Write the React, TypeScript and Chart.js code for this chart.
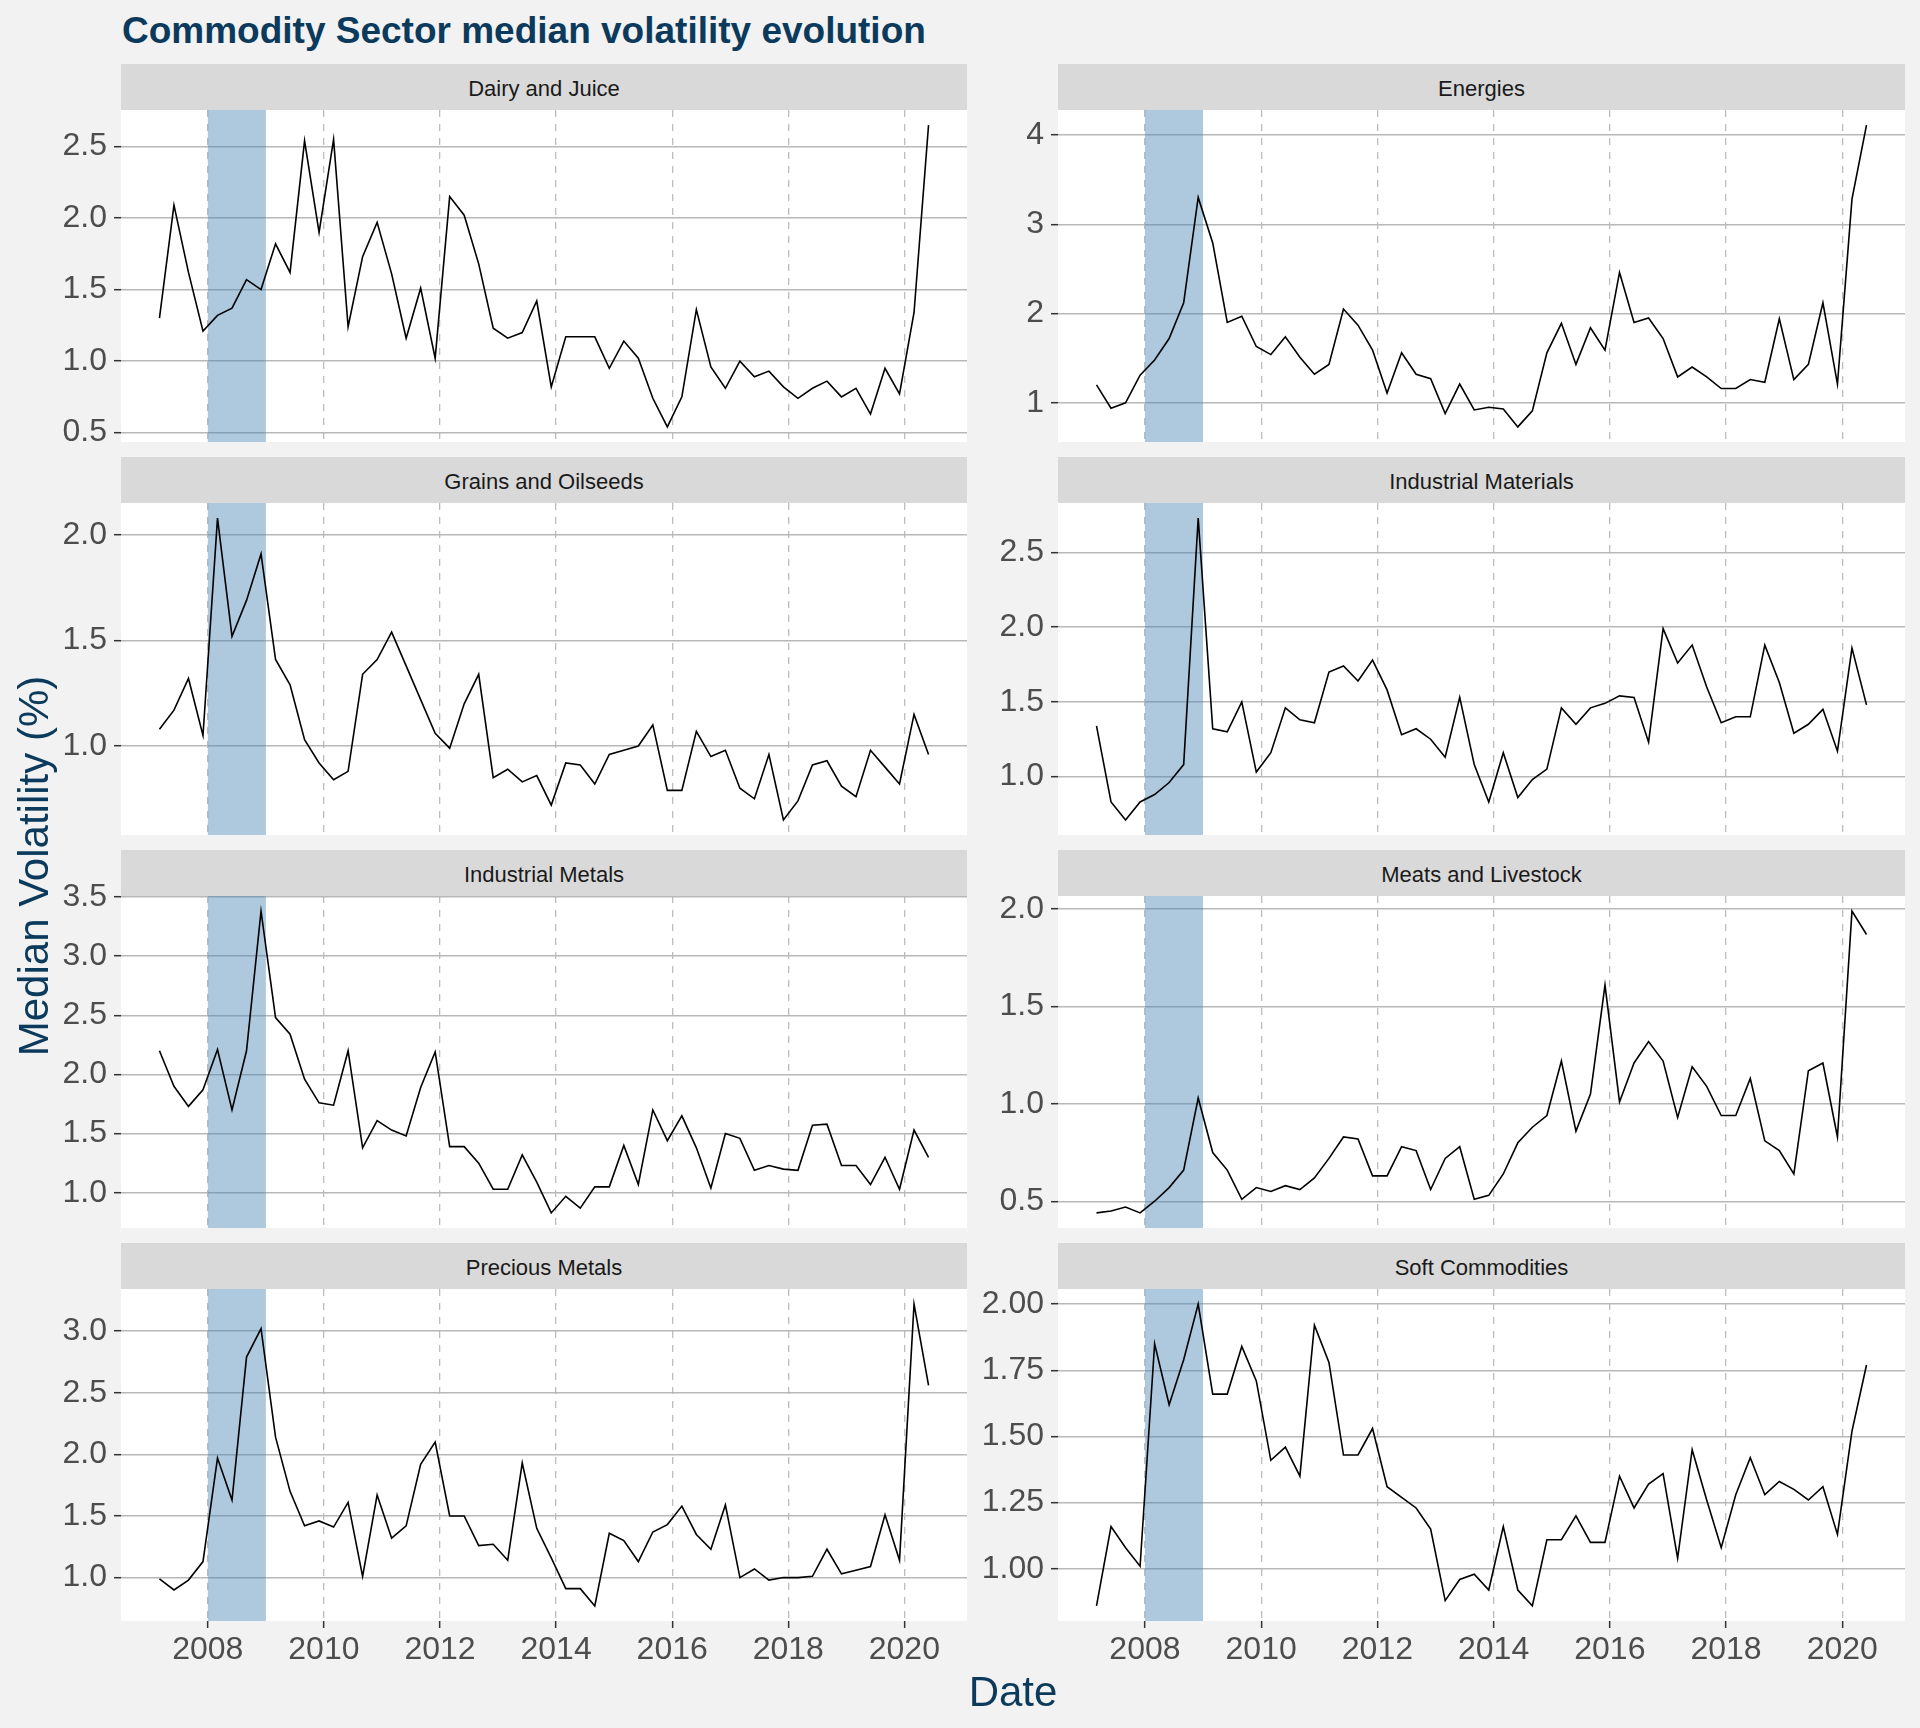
import React, { useEffect, useRef } from "react";
import { Chart, registerables } from "chart.js";

Chart.register(...registerables);

// ---------- data ----------
const QUARTERS = [
  "2007-03", "2007-06", "2007-09", "2007-12",
  "2008-03", "2008-06", "2008-09", "2008-12",
  "2009-03", "2009-06", "2009-09", "2009-12",
  "2010-03", "2010-06", "2010-09", "2010-12",
  "2011-03", "2011-06", "2011-09", "2011-12",
  "2012-03", "2012-06", "2012-09", "2012-12",
  "2013-03", "2013-06", "2013-09", "2013-12",
  "2014-03", "2014-06", "2014-09", "2014-12",
  "2015-03", "2015-06", "2015-09", "2015-12",
  "2016-03", "2016-06", "2016-09", "2016-12",
  "2017-03", "2017-06", "2017-09", "2017-12",
  "2018-03", "2018-06", "2018-09", "2018-12",
  "2019-03", "2019-06", "2019-09", "2019-12",
  "2020-03", "2020-06",
];

const SECTORS = [
  "Dairy and Juice",
  "Energies",
  "Grains and Oilseeds",
  "Industrial Materials",
  "Industrial Metals",
  "Meats and Livestock",
  "Precious Metals",
  "Soft Commodities",
];

const DAIRY = [1.30, 2.09, 1.62, 1.21, 1.32, 1.37, 1.57, 1.50, 1.82, 1.62, 2.54, 1.90, 2.55, 1.24, 1.73, 1.97, 1.61, 1.16, 1.51, 1.02, 2.15, 2.02, 1.68, 1.23, 1.16, 1.20, 1.42, 0.82, 1.17, 1.17, 1.17, 0.95, 1.14, 1.02, 0.74, 0.54, 0.75, 1.36, 0.96, 0.81, 1.00, 0.89, 0.93, 0.82, 0.74, 0.81, 0.86, 0.75, 0.81, 0.63, 0.95, 0.77, 1.34, 2.65];
const ENERGIES = [1.20, 0.94, 1.00, 1.31, 1.48, 1.72, 2.12, 3.30, 2.79, 1.90, 1.97, 1.63, 1.54, 1.74, 1.51, 1.32, 1.43, 2.05, 1.87, 1.59, 1.11, 1.56, 1.32, 1.27, 0.88, 1.21, 0.92, 0.95, 0.93, 0.73, 0.91, 1.56, 1.89, 1.43, 1.84, 1.59, 2.46, 1.90, 1.95, 1.72, 1.29, 1.40, 1.29, 1.16, 1.16, 1.26, 1.23, 1.94, 1.26, 1.43, 2.12, 1.21, 3.28, 4.11];
const GRAINS = [1.08, 1.17, 1.32, 1.05, 2.08, 1.52, 1.69, 1.91, 1.41, 1.29, 1.03, 0.92, 0.84, 0.88, 1.34, 1.41, 1.54, 1.38, 1.22, 1.06, 0.99, 1.20, 1.34, 0.85, 0.89, 0.83, 0.86, 0.72, 0.92, 0.91, 0.82, 0.96, 0.98, 1.00, 1.10, 0.79, 0.79, 1.07, 0.95, 0.98, 0.80, 0.75, 0.96, 0.65, 0.74, 0.91, 0.93, 0.81, 0.76, 0.98, 0.90, 0.82, 1.15, 0.96];
const IND_MATERIALS = [1.34, 0.83, 0.71, 0.83, 0.88, 0.96, 1.08, 2.73, 1.32, 1.30, 1.50, 1.03, 1.16, 1.46, 1.38, 1.36, 1.70, 1.74, 1.64, 1.78, 1.58, 1.28, 1.32, 1.25, 1.13, 1.53, 1.08, 0.83, 1.16, 0.86, 0.98, 1.05, 1.46, 1.35, 1.46, 1.49, 1.54, 1.53, 1.23, 1.99, 1.76, 1.88, 1.60, 1.36, 1.40, 1.40, 1.88, 1.63, 1.29, 1.35, 1.45, 1.17, 1.86, 1.48];
const IND_METALS = [2.20, 1.90, 1.73, 1.87, 2.21, 1.70, 2.20, 3.38, 2.48, 2.34, 1.96, 1.76, 1.74, 2.20, 1.38, 1.61, 1.53, 1.48, 1.89, 2.19, 1.39, 1.39, 1.25, 1.03, 1.03, 1.32, 1.09, 0.83, 0.97, 0.87, 1.05, 1.05, 1.40, 1.07, 1.70, 1.44, 1.65, 1.38, 1.04, 1.50, 1.46, 1.19, 1.23, 1.20, 1.19, 1.57, 1.58, 1.23, 1.23, 1.07, 1.30, 1.03, 1.53, 1.30];
const MEATS = [0.44, 0.45, 0.47, 0.44, 0.50, 0.57, 0.66, 1.03, 0.75, 0.66, 0.51, 0.57, 0.55, 0.58, 0.56, 0.62, 0.72, 0.83, 0.82, 0.63, 0.63, 0.78, 0.76, 0.56, 0.72, 0.78, 0.51, 0.53, 0.64, 0.80, 0.88, 0.94, 1.22, 0.86, 1.05, 1.61, 1.01, 1.21, 1.32, 1.22, 0.93, 1.19, 1.09, 0.94, 0.94, 1.13, 0.81, 0.76, 0.64, 1.17, 1.21, 0.83, 1.99, 1.87];
const PRECIOUS = [0.99, 0.90, 0.98, 1.13, 1.97, 1.63, 2.79, 3.02, 2.14, 1.70, 1.42, 1.46, 1.41, 1.61, 1.01, 1.67, 1.32, 1.42, 1.92, 2.10, 1.50, 1.50, 1.26, 1.27, 1.14, 1.93, 1.40, 1.16, 0.91, 0.91, 0.77, 1.36, 1.30, 1.13, 1.37, 1.43, 1.58, 1.35, 1.23, 1.59, 1.00, 1.07, 0.98, 1.00, 1.00, 1.01, 1.23, 1.03, 1.06, 1.09, 1.51, 1.14, 3.22, 2.56];
const SOFT = [0.86, 1.16, 1.08, 1.01, 1.85, 1.62, 1.79, 2.00, 1.66, 1.66, 1.84, 1.71, 1.41, 1.46, 1.35, 1.92, 1.78, 1.43, 1.43, 1.53, 1.31, 1.27, 1.23, 1.15, 0.88, 0.96, 0.98, 0.92, 1.16, 0.92, 0.86, 1.11, 1.11, 1.20, 1.10, 1.10, 1.35, 1.23, 1.32, 1.36, 1.04, 1.45, 1.26, 1.08, 1.28, 1.42, 1.28, 1.33, 1.30, 1.26, 1.31, 1.13, 1.52, 1.77];

const X_TICKS = [2008, 2010, 2012, 2014, 2016, 2018, 2020];
const RECESSION = [2008, 2009];

const Y_TICKS_DAIRY = [0.5, 1.0, 1.5, 2.0, 2.5];
const Y_TICKS_ENERGIES = [1, 2, 3, 4];
const Y_TICKS_GRAINS = [1.0, 1.5, 2.0];
const Y_TICKS_IND_MATERIALS = [1.0, 1.5, 2.0, 2.5];
const Y_TICKS_IND_METALS = [1.0, 1.5, 2.0, 2.5, 3.0, 3.5];
const Y_TICKS_MEATS = [0.5, 1.0, 1.5, 2.0];
const Y_TICKS_PRECIOUS = [1.0, 1.5, 2.0, 2.5, 3.0];
const Y_TICKS_SOFT = [1.0, 1.25, 1.5, 1.75, 2.0];

const PANELS = [
  { title: SECTORS[0], values: DAIRY, ticks: Y_TICKS_DAIRY, dec: 1 },
  { title: SECTORS[1], values: ENERGIES, ticks: Y_TICKS_ENERGIES, dec: 0 },
  { title: SECTORS[2], values: GRAINS, ticks: Y_TICKS_GRAINS, dec: 1 },
  { title: SECTORS[3], values: IND_MATERIALS, ticks: Y_TICKS_IND_MATERIALS, dec: 1 },
  { title: SECTORS[4], values: IND_METALS, ticks: Y_TICKS_IND_METALS, dec: 1 },
  { title: SECTORS[5], values: MEATS, ticks: Y_TICKS_MEATS, dec: 1 },
  { title: SECTORS[6], values: PRECIOUS, ticks: Y_TICKS_PRECIOUS, dec: 1 },
  { title: SECTORS[7], values: SOFT, ticks: Y_TICKS_SOFT, dec: 2 },
];

// ---------- layout / style ----------
const FONT = '"Liberation Sans", Arial, Helvetica, sans-serif';
const NAVY = "#0b3a5c";
const COL_LEFT = [121, 1058];
const COL_RIGHT = [967, 1905];
const STRIP_TOP0 = 64;
const ROW_STEP = 392.9;
const STRIP_H = 46;
const PLOT_H = 332;
const YAXIS_W = 110;
const XAXIS_H = 60;
const EDGE = 24;

function toYear(q: string): number {
  const [y, m] = q.split("-").map(Number);
  return y + (m - 1) / 12;
}

function expand(vals: number[]): [number, number] {
  const lo = Math.min(...vals);
  const hi = Math.max(...vals);
  const pad = (hi - lo) * 0.05;
  return [lo - pad, hi + pad];
}

const panelBg = {
  id: "panelBg",
  beforeDraw(chart: any) {
    const { ctx, chartArea: a } = chart;
    ctx.save();
    ctx.fillStyle = "#ffffff";
    ctx.fillRect(a.left, a.top, a.right - a.left, a.bottom - a.top);
    ctx.restore();
  },
};

const recessionBand = {
  id: "recessionBand",
  beforeDatasetsDraw(chart: any) {
    const { ctx, chartArea: a, scales } = chart;
    const x0 = scales.x.getPixelForValue(RECESSION[0]);
    const x1 = scales.x.getPixelForValue(RECESSION[1]);
    ctx.save();
    ctx.fillStyle = "rgba(70,130,180,0.44)";
    ctx.fillRect(x0, a.top, x1 - x0, a.bottom - a.top);
    ctx.restore();
  },
};

function Panel({ idx }: { idx: number }) {
  const ref = useRef<HTMLCanvasElement>(null);
  const row = Math.floor(idx / 2);
  const col = idx % 2;
  const bottom = row === 3;
  const plotLeft = COL_LEFT[col];
  const plotW = COL_RIGHT[col] - COL_LEFT[col];
  const stripTop = Math.round(STRIP_TOP0 + row * ROW_STEP);
  const plotTop = stripTop + STRIP_H;
  const padBottom = bottom ? 0 : EDGE;
  const canvasW = plotW + YAXIS_W;
  const canvasH = EDGE + PLOT_H + (bottom ? XAXIS_H : padBottom);
  const p = PANELS[idx];

  useEffect(() => {
    const xs = QUARTERS.map(toYear);
    const [xmin, xmax] = expand(xs);
    const [ymin, ymax] = expand(p.values);
    const chart = new Chart(ref.current as HTMLCanvasElement, {
      type: "line",
      data: {
        datasets: [
          {
            data: xs.map((x, i) => ({ x, y: p.values[i] })),
            borderColor: "#000000",
            borderWidth: 1.6,
            pointRadius: 0,
            tension: 0,
            fill: false,
          },
        ],
      },
      options: {
        animation: false,
        responsive: false,
        devicePixelRatio: 1,
        events: [],
        layout: { padding: { top: EDGE, bottom: padBottom, left: 0, right: 0 } },
        plugins: {
          legend: { display: false },
          tooltip: { enabled: false },
          title: { display: false },
        },
        scales: {
          x: {
            type: "linear",
            min: xmin,
            max: xmax,
            afterBuildTicks: (a: any) => {
              a.ticks = X_TICKS.map((v) => ({ value: v }));
            },
            afterFit: (a: any) => {
              a.height = bottom ? XAXIS_H : 0;
              a.paddingLeft = 0;
              a.paddingRight = 0;
            },
            ticks: {
              display: bottom,
              autoSkip: false,
              maxRotation: 0,
              padding: 3,
              color: "#4d4d4d",
              font: { family: FONT, size: 32 },
              callback: (v: any) => String(v),
            },
            grid: {
              color: "#bdbdbd",
              lineWidth: 1.3,
              drawTicks: bottom,
              tickLength: 7,
              tickColor: "#333333",
              tickWidth: 1.5,
              tickBorderDash: [],
            },
            border: { display: false, dash: [7, 7] },
          },
          y: {
            type: "linear",
            min: ymin,
            max: ymax,
            afterBuildTicks: (a: any) => {
              a.ticks = p.ticks.map((v) => ({ value: v }));
            },
            afterFit: (a: any) => {
              a.width = YAXIS_W;
              a.paddingTop = 0;
              a.paddingBottom = 0;
            },
            ticks: {
              padding: 7,
              color: "#4d4d4d",
              font: { family: FONT, size: 32 },
              callback: (v: any) => Number(v).toFixed(p.dec),
            },
            grid: {
              color: "#b8b8b8",
              lineWidth: 1.4,
              drawTicks: true,
              tickLength: 7,
              tickColor: "#333333",
              tickWidth: 1.5,
            },
            border: { display: false },
          },
        },
      } as any,
      plugins: [panelBg, recessionBand],
    });
    return () => chart.destroy();
  }, []);

  return (
    <>
      <div
        style={{
          position: "absolute",
          left: plotLeft,
          top: stripTop,
          width: plotW,
          height: STRIP_H,
          background: "#d9d9d9",
          color: "#1a1a1a",
          fontFamily: FONT,
          fontSize: 22,
          lineHeight: `${STRIP_H + 4}px`,
          textAlign: "center",
          overflow: "hidden",
        }}
      >
        {p.title}
      </div>
      <canvas
        ref={ref}
        width={canvasW}
        height={canvasH}
        style={{
          position: "absolute",
          left: plotLeft - YAXIS_W,
          top: plotTop - EDGE,
          width: canvasW,
          height: canvasH,
        }}
      />
    </>
  );
}

export default function App() {
  return (
    <div
      style={{
        position: "absolute",
        left: 0,
        top: 0,
        width: 1920,
        height: 1728,
        background: "#f2f2f2",
        overflow: "hidden",
        fontFamily: FONT,
      }}
    >
      <div
        style={{
          position: "absolute",
          left: 122,
          top: 12,
          fontSize: 37,
          lineHeight: "37px",
          fontWeight: 700,
          color: NAVY,
          whiteSpace: "nowrap",
        }}
      >
        Commodity Sector median volatility evolution
      </div>
      {PANELS.map((_, i) => (
        <Panel key={i} idx={i} />
      ))}
      <div
        style={{
          position: "absolute",
          left: 1013 - 200,
          top: 1671,
          width: 400,
          fontSize: 42,
          lineHeight: "42px",
          textAlign: "center",
          color: NAVY,
        }}
      >
        Date
      </div>
      <div
        style={{
          position: "absolute",
          left: 33.5 - 300,
          top: 866 - 21,
          width: 600,
          height: 42,
          fontSize: 42,
          lineHeight: "42px",
          textAlign: "center",
          color: NAVY,
          whiteSpace: "nowrap",
          transform: "rotate(-90deg)",
          transformOrigin: "50% 50%",
        }}
      >
        Median Volatility (%)
      </div>
    </div>
  );
}
